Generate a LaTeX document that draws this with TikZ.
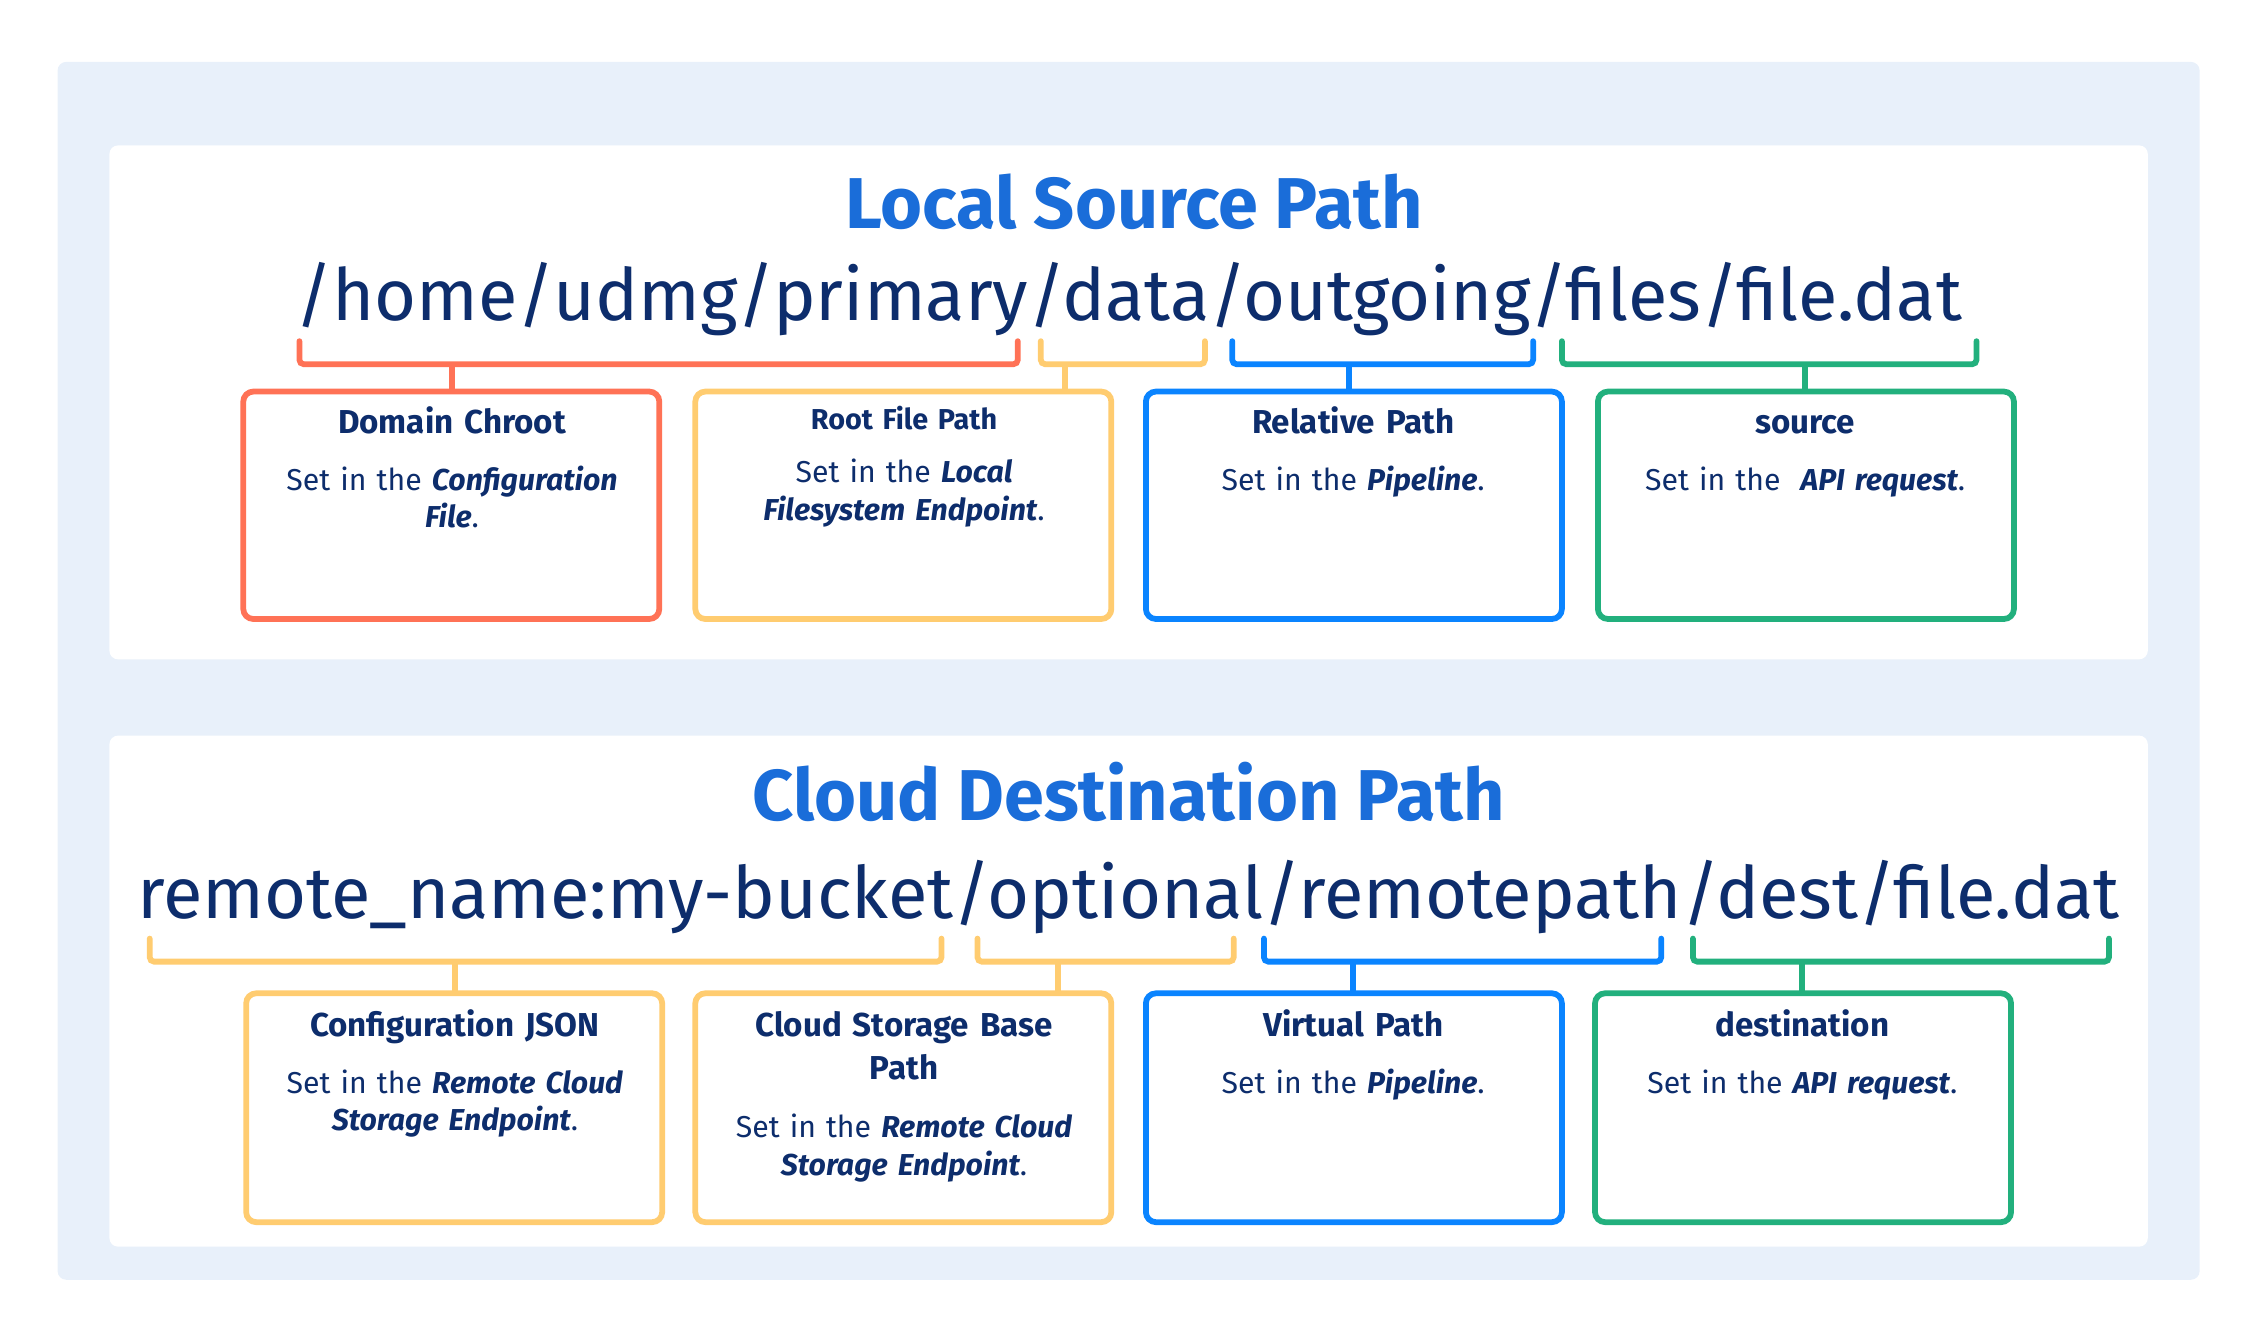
\documentclass[tikz,border=0pt]{standalone}
\usepackage{fontspec}
\setmainfont{Fira Sans}
\definecolor{bgc}{HTML}{E8F0FA}
\definecolor{ttl}{HTML}{1A6DD9}
\definecolor{navy}{HTML}{0D2D6C}
\definecolor{cred}{HTML}{FF7256}
\definecolor{cyel}{HTML}{FFCC70}
\definecolor{cblu}{HTML}{0A84FF}
\definecolor{cgrn}{HTML}{22B07D}
\begin{document}
\hyphenpenalty=10000 \exhyphenpenalty=10000
\begin{tikzpicture}[x=1pt,y=-1pt,
 panel/.style={fill=white,rounded corners=6pt,draw=none},
 box/.style={draw=#1,line width=4pt,rounded corners=7pt,fill=white},
 brk/.style={draw=#1,line width=4pt,rounded corners=3pt,line cap=round},
 bt/.style={anchor=north,text=navy,font=\fontsize{23}{30}\selectfont\bfseries,align=center,text width=280pt,inner sep=0pt,execute at begin node=\strut},
 bb/.style={anchor=north,text=navy,font=\fontsize{21}{26}\selectfont,align=center,text width=280pt,inner sep=0pt,execute at begin node=\strut},
 title/.style={text=ttl,font=\fontsize{50}{56}\selectfont\bfseries},
 path/.style={text=navy,inner sep=0pt}]
\useasboundingbox (0,0) rectangle (1563,923.3);
\fill[bgc,rounded corners=6pt] (40,43) rectangle (1528,889);
\fill[panel] (76,101) rectangle (1492,458);
\fill[panel] (76,511) rectangle (1492,866);
\node[title] (t1) at (788,140) {Local Source Path};
\node[title] (t2) at (784,550) {Cloud Destination Path};
\node[path] (p1) at (784,208) {\resizebox{1158pt}{!}{\fontsize{50}{56}\selectfont /home/udmg/primary/data/outgoing/files/file.dat}};
\node[path] (p2) at (784,623) {\resizebox{1377pt}{!}{\fontsize{50}{56}\selectfont remote\_name:my-bucket/optional/remotepath/dest/file.dat}};
\foreach \a/\b/\c/\s in {208/707/cred/314,723/837/cyel/740,856/1065/cblu/937,1085/1373/cgrn/1254}{
 \draw[brk=\c] (\a,237) -- (\a,253) -- (\b,253) -- (\b,237);
 \draw[draw=\c,line width=4pt] (\s,253) -- (\s,272);}
\foreach \a/\b/\c/\s in {104/654/cyel/316,679/857/cyel/735,878/1154/cblu/940,1176/1465/cgrn/1252}{
 \draw[brk=\c] (\a,652) -- (\a,668) -- (\b,668) -- (\b,652);
 \draw[draw=\c,line width=4pt] (\s,668) -- (\s,690);}
\draw[box=cred] (169,272) rectangle (458,430);
\draw[box=cyel] (483,272) rectangle (772,430);
\draw[box=cblu] (796,272) rectangle (1085,430);
\draw[box=cgrn] (1110,272) rectangle (1399,430);
\node[bt] (h1) at (314,280) {Domain Chroot};
\node[bb] (d1) at (314,322) {Set in the \textbf{\itshape Configuration}\\\textbf{\itshape File}.};
\node[bt,font=\fontsize{20}{26}\selectfont\bfseries] (h2) at (628,280) {Root File Path};
\node[bb] (d2) at (628,317) {Set in the \textbf{\itshape Local}\\\textbf{\itshape Filesystem Endpoint}.};
\node[bt] (h3) at (940,280) {Relative Path};
\node[bb] (d3) at (940,322) {Set in the \textbf{\itshape Pipeline}.};
\node[bt] (h4) at (1254,280) {source};
\node[bb] (d4) at (1254,322) {Set in the \ \textbf{\itshape API request}.};
\draw[box=cyel] (171,690) rectangle (460,849);
\draw[box=cyel] (483,690) rectangle (772,849);
\draw[box=cblu] (796,690) rectangle (1085,849);
\draw[box=cgrn] (1108,690) rectangle (1397,849);
\node[bt] (h5) at (316,699) {Configuration JSON};
\node[bb] (d5) at (316,741) {Set in the \textbf{\itshape Remote Cloud}\\\textbf{\itshape Storage Endpoint}.};
\node[bt] (h6) at (628,699) {Cloud Storage Base\\Path};
\node[bb] (d6) at (628,772) {Set in the \textbf{\itshape Remote Cloud}\\\textbf{\itshape Storage Endpoint}.};
\node[bt] (h7) at (940,699) {Virtual Path};
\node[bb] (d7) at (940,741) {Set in the \textbf{\itshape Pipeline}.};
\node[bt] (h8) at (1252,699) {destination};
\node[bb] (d8) at (1252,741) {Set in the \textbf{\itshape API request}.};
\end{tikzpicture}
\end{document}
